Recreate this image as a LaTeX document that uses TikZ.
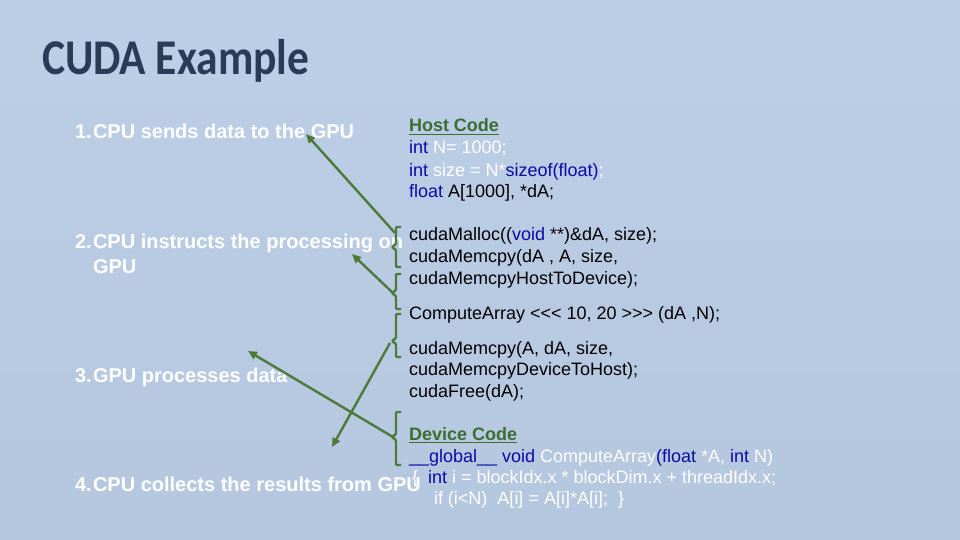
\documentclass[tikz,border=0pt]{standalone}
\usepackage{fontspec}
\setmainfont{Liberation Sans}
\newfontfamily\titlefont{Carlito}
\usetikzlibrary{arrows.meta}
\definecolor{bgtop}{HTML}{BDCEE7}
\definecolor{bgbot}{HTML}{B5C7DF}
\definecolor{titlecol}{HTML}{2A3B58}
\definecolor{grn}{HTML}{4B7A3B}
\definecolor{hgrn}{HTML}{3C6E30}
\definecolor{kwblue}{HTML}{0A0AA5}
\newcommand{\kw}[1]{\textcolor{kwblue}{#1}}
\newcommand{\wt}[1]{\textcolor{white}{#1}}
\tikzset{
  txt/.style={anchor=base west, inner sep=0pt, outer sep=0pt},
  item/.style={txt, font=\fontsize{20}{24}\selectfont\bfseries, text=white},
  code/.style={txt, font=\fontsize{18}{21}\selectfont, text=black},
  head/.style={txt, font=\fontsize{18}{21}\selectfont\bfseries, text=hgrn},
  brk/.style={draw=grn, line width=2.4pt, rounded corners=1pt},
  arr/.style={draw=grn, line width=2.4pt, -{Triangle[length=9pt,width=8pt]}},
}
\begin{document}
\begin{tikzpicture}[x=1pt,y=-1pt]
\useasboundingbox (0,0) rectangle (960,540);
\shade[top color=bgtop, bottom color=bgbot] (0,0) rectangle (960,540);
% title
\node[txt, text=titlecol] (title) at (42,75) {\titlefont\fontsize{50}{60}\selectfont\bfseries\scalebox{0.87}[1]{CUDA Example}};
% left items
\node[item] (n1) at (75,139) {1.};
\node[item] (i1) at (93,139) {CPU sends data to the GPU};
\node[item] (n2) at (75,248) {2.};
\node[item] (i2) at (93,248) {CPU instructs the processing on};
\node[item] (i2b) at (93,273) {GPU};
\node[item] (n3) at (75,382) {3.};
\node[item] (i3) at (93,382) {GPU processes data};
\node[item] (n4) at (75,491) {4.};
\node[item] (i4) at (93,491) {CPU collects the results from GPU};
% code
\node[head] (hc) at (409,132) {Host Code};
\draw[hgrn, line width=1.6pt] ([yshift=-2.5pt]hc.base west) -- ([yshift=-2.5pt]hc.base east);
\node[code] (c1) at (409,154) {\kw{int} \wt{N= 1000;}};
\node[code] (c2) at (409,176) {\kw{int} \wt{size = N*}\kw{sizeof(float)}\wt{;}};
\node[code] (c3) at (409,197) {\kw{float} A[1000], *dA;};
\node[code] (c4) at (409,240) {cudaMalloc((\kw{void} **)\&dA, size);};
\node[code] (c5) at (409,262) {cudaMemcpy(dA , A, size,};
\node[code] (c6) at (409,284) {cudaMemcpyHostToDevice);};
\node[code] (c7) at (409,319) {ComputeArray <{}<{}< 10, 20 >{}>{}> (dA ,N);};
\node[code] (c8) at (409,354) {cudaMemcpy(A, dA, size,};
\node[code] (c9) at (409,375) {cudaMemcpyDeviceToHost);};
\node[code] (c10) at (409,397) {cudaFree(dA);};
\node[head] (dc) at (409,440) {Device Code};
\draw[hgrn, line width=1.6pt] ([yshift=-2.5pt]dc.base west) -- ([yshift=-2.5pt]dc.base east);
\node[code] (d1) at (409,462) {\kw{\_\_global\_\_ void} \wt{ComputeArray}\kw{(float} \wt{*A,} \kw{int} \wt{N)}};
\node[code] (d2) at (412,483) {\wt{\{}\hspace{10pt}\kw{int} \wt{i = blockIdx.x * blockDim.x + threadIdx.x;}};
\node[code] (d3) at (434,504) {\wt{if (i<N)\ \ A[i] = A[i]*A[i];\ \ \}}};
% brackets
\draw[brk] (401,227) -- (396,227) -- (396,244) -- (392,247) -- (396,250) -- (396,267) -- (401,267);
\draw[brk] (401,274) -- (396,274) -- (396,290) -- (392,293) -- (396,296) -- (396,309) -- (401,309);
\draw[brk] (401,314) -- (396,314) -- (396,338) -- (392,341) -- (396,344) -- (396,357) -- (401,357);
\draw[brk] (401,412) -- (396,412) -- (396,434) -- (392,437) -- (396,440) -- (396,465) -- (401,465);
% connector coordinates
\coordinate (s1) at (395,233);
\coordinate (e1) at (306,134);
\coordinate (s2) at (393,293);
\coordinate (e2) at (352,254);
\coordinate (s3) at (390,343);
\coordinate (e3) at (332,447);
\coordinate (s4) at (393,437);
\coordinate (e4) at (248,351);
\draw[arr] (s1) -- (e1);
\draw[arr] (s2) -- (e2);
\draw[arr] (s3) -- (e3);
\draw[arr] (s4) -- (e4);
\end{tikzpicture}
\end{document}
